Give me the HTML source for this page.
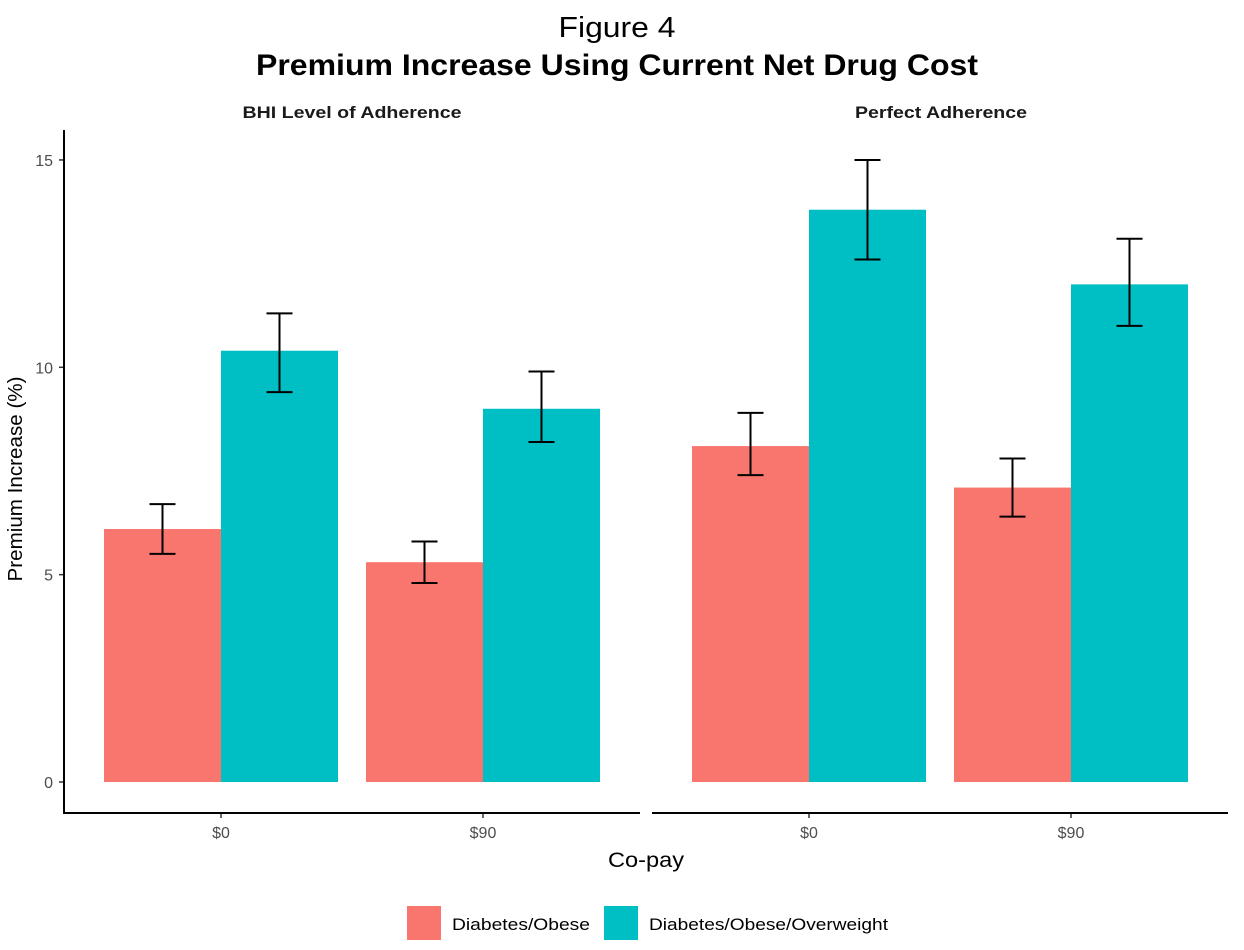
<!DOCTYPE html>
<html><head><meta charset="utf-8"><style>
html,body{margin:0;padding:0;background:#fff}
svg{display:block;font-family:"Liberation Sans",sans-serif}
</style></head><body>
<svg id="chart" width="1244" height="950" viewBox="0 0 1244 950">
<text x="617" y="37" font-size="29" text-anchor="middle" textLength="117" lengthAdjust="spacingAndGlyphs">Figure 4</text>
<text x="617" y="75" font-size="30" font-weight="bold" text-anchor="middle" textLength="722" lengthAdjust="spacingAndGlyphs">Premium Increase Using Current Net Drug Cost</text>
<text x="352" y="118" font-size="17" font-weight="bold" fill="#1a1a1a" text-anchor="middle" textLength="219" lengthAdjust="spacingAndGlyphs">BHI Level of Adherence</text>
<text x="941" y="118" font-size="17" font-weight="bold" fill="#1a1a1a" text-anchor="middle" textLength="172" lengthAdjust="spacingAndGlyphs">Perfect Adherence</text>
<g id="marks"></g>
<line x1="64" y1="130" x2="64" y2="814" stroke="#000" stroke-width="2"/>
<line x1="63" y1="813" x2="640" y2="813" stroke="#000" stroke-width="2"/>
<line x1="652" y1="813" x2="1228" y2="813" stroke="#000" stroke-width="2"/>
<text transform="translate(22,479) rotate(-90)" font-size="20" text-anchor="middle" textLength="205" lengthAdjust="spacingAndGlyphs">Premium Increase (%)</text>
<text x="646" y="867" font-size="21" text-anchor="middle" textLength="76" lengthAdjust="spacingAndGlyphs">Co-pay</text>
<rect x="407" y="906" width="34" height="34" fill="#F8766D"/>
<text x="452" y="930" font-size="17" textLength="138" lengthAdjust="spacingAndGlyphs">Diabetes/Obese</text>
<rect x="604" y="906" width="34" height="34" fill="#00BFC4"/>
<text x="649" y="930" font-size="17" textLength="239" lengthAdjust="spacingAndGlyphs">Diabetes/Obese/Overweight</text>
</svg>
<script>
const panels=["BHI Level of Adherence","Perfect Adherence"];
const categories=["$0","$90"];
const obeseVals=[[6.1,5.3],[8.1,7.1]];
const obeseLo=[[5.5,4.8],[7.4,6.4]];
const obeseHi=[[6.7,5.8],[8.9,7.8]];
const overVals=[[10.4,9.0],[13.8,12.0]];
const overLo=[[9.4,8.2],[12.6,11.0]];
const overHi=[[11.3,9.9],[15.0,13.1]];
const yTicks=[0,5,10,15];
const NS="http://www.w3.org/2000/svg";
const g=document.getElementById('marks');
const y=v=>782-v*41.47;
const panelX=[64,652];
const catCenter=(p,c)=>panelX[p]+157+c*262;
function mk(t,a){const e=document.createElementNS(NS,t);for(const k in a)e.setAttribute(k,a[k]);g.appendChild(e);return e;}
yTicks.forEach(t=>{
 const l=mk('line',{x1:59,x2:64,y1:y(t),y2:y(t),stroke:'#333','stroke-width':1.5});
 
 
 const tx=mk('text',{x:53,y:y(t)+6,'font-size':16,fill:'#4d4d4d','text-anchor':'end'});tx.textContent=t;
 
 
});
panels.forEach((p,pi)=>{
 categories.forEach((c,ci)=>{
  const cx=catCenter(pi,ci);
  const tk=mk('line',{x1:cx,x2:cx,y1:813,y2:818,stroke:'#333','stroke-width':1.5});
  
  
  const tl=mk('text',{x:cx,y:838,'font-size':16,fill:'#4d4d4d','text-anchor':'middle'});tl.textContent=c;
  
  
  [[obeseVals,obeseLo,obeseHi,'#F8766D',-117],[overVals,overLo,overHi,'#00BFC4',0]].forEach((s,si)=>{
   const v=s[0][pi][ci],x0=cx+s[4];
   const r=mk('rect',{x:x0,y:y(v),width:117,height:y(0)-y(v),fill:s[3]});
   
   
   const ex=x0+58.5,lo=y(s[1][pi][ci]),hi=y(s[2][pi][ci]);
   const e=mk('path',{d:`M${ex-13},${hi}H${ex+13}M${ex},${hi}V${lo}M${ex-13},${lo}H${ex+13}`,stroke:'#000','stroke-width':2,fill:'none'});
   
   
  });
 });
});
</script>
</body></html>
